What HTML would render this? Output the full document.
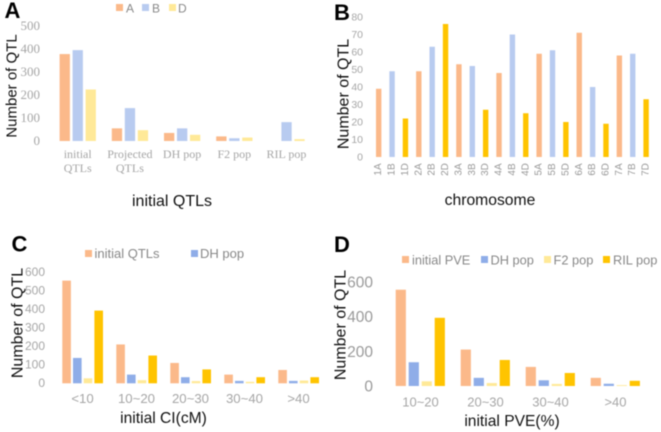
<!DOCTYPE html>
<html lang="en">
<head>
<meta charset="utf-8">
<title>QTL charts</title>
<style>
html,body{margin:0;padding:0;background:#fff;width:661px;height:432px;overflow:hidden}
svg{display:block;filter:blur(0.4px)}
text{font-family:"Liberation Sans",sans-serif}
</style>
</head>
<body>
<svg id="chart" xmlns="http://www.w3.org/2000/svg" width="661" height="432" viewBox="0 0 661 432"></svg>
<script>
const aCategories = [["initial","QTLs"],["Projected","QTLs"],["DH pop"],["F2 pop"],["RIL pop"]];
const aSeriesNames = ["A","B","D"];
const aSeriesA = [378,55,35,20,0];
const aSeriesB = [395,143,55,12,82];
const aSeriesD = [224,47,27,15,8];
const aTicks = [0,100,200,300,400,500];

const bCategories = ["1A","1B","1D","2A","2B","2D","3A","3B","3D","4A","4B","4D","5A","5B","5D","6A","6B","6D","7A","7B","7D"];
const bValues = [39,49,22,49,63,76,53,52,27,48,70,25,59,61,20,71,40,19,58,59,33];
const bTicks = [0,10,20,30,40,50,60,70,80];

const cCategories = ["<10","10~20","20~30","30~40",">40"];
const cInitial = [555,210,110,47,72];
const cDH = [137,47,33,13,13];
const cF2 = [27,17,12,8,15];
const cRIL = [393,150,75,33,33];
const cTicks = [0,100,200,300,400,500,600];

const dCategories = ["10~20","20~30","30~40",">40"];
const dInitial = [555,210,110,47];
const dDH = [137,47,33,13];
const dF2 = [27,17,12,5];
const dRIL = [393,150,75,30];
const dTicks = [0,200,400,600];

const svg = document.getElementById('chart');
const NS = 'http://www.w3.org/2000/svg';
const ORANGE = '#fbb98a', BLUE = '#b8cbf0', YELLOW = '#ffe998', GOLD = '#ffc400', MIDBLUE = '#8fade8';

function mk(tag, attrs, name, content) {
  const el = document.createElementNS(NS, tag);
  for (const k in attrs) el.setAttribute(k, attrs[k]);
  
  
  if (content !== undefined) el.textContent = content;
  svg.appendChild(el);
  return el;
}
function txt(x, y, s, name, size, fill, anchor, extra) {
  return mk('text', Object.assign({x: x, y: y, 'font-size': size, fill: fill, 'text-anchor': anchor || 'start'}, extra || {}), name, s);
}
function vtxt(cx, cy, s, name, size, fill) {
  return mk('text', {x: 0, y: 0, 'font-size': size, fill: fill, 'text-anchor': 'middle',
    'dominant-baseline': 'central', transform: 'translate(' + cx + ',' + cy + ') rotate(-90)'}, name, s);
}
function scale(base, pxPerUnit) { return v => base - v * pxPerUnit; }
function bar(x, w, y0, yv, fill, name) {
  mk('rect', {x: x, y: yv, width: w, height: Math.max(0, y0 - yv), fill: fill}, name);
}
function swatch(x, y, size, fill, name) {
  mk('rect', {x: x, y: y, width: size, height: size, fill: fill}, name);
}
function yTicks(ticks, yFn, rightX, size, fill, family, prefix, dy) {
  ticks.forEach(t => {
    txt(rightX, yFn(t) + dy, String(t), prefix + '-y-tick-' + t, size, fill, 'end', family ? {style: 'font-family:' + family} : {});
  });
}
function grouped(seriesList, colors, names, first, groupStep, barStep, barW, yFn, prefix) {
  seriesList.forEach((vals, s) => {
    vals.forEach((v, i) => {
      if (v > 0) bar(first + i * groupStep + s * barStep, barW, yFn(0), yFn(v), colors[s], prefix + '-bar-' + names[s] + '-' + i);
    });
  });
}

/* Panel A */
txt(4.5, 18, 'A', 'panel-a-label', 22, '#000', 'start', {'font-weight': 'bold'});
const yA = scale(141, 0.23);
yTicks(aTicks, yA, 40, 13, '#a6a6a6', '"Liberation Serif",serif', 'a', 4);
vtxt(12, 86, 'Number of QTL', 'a-y-axis-title', 15, '#111');
grouped([aSeriesA, aSeriesB, aSeriesD], [ORANGE, BLUE, YELLOW], aSeriesNames, 59.6, 52.2, 13, 10.3, yA, 'a');
aCategories.forEach((lines, i) => {
  lines.forEach((l, j) => {
    txt(77.7 + i * 52.2, 158 + j * 14, l, 'a-x-label-' + i + '-' + j, 12, '#a6a6a6', 'middle', {style: 'font-family:"Liberation Serif",serif'});
  });
});
txt(172, 206, 'initial QTLs', 'a-x-axis-title', 16, '#111', 'middle');
[[116, ORANGE, 126], [142, BLUE, 152], [169, YELLOW, 178]].forEach((e, i) => {
  swatch(e[0], 4, 7, e[1], 'a-legend-swatch-' + aSeriesNames[i]);
  txt(e[2], 12.5, aSeriesNames[i], 'a-legend-label-' + aSeriesNames[i], 12, '#888');
});

/* Panel B */
txt(334, 20, 'B', 'panel-b-label', 22, '#000', 'start', {'font-weight': 'bold'});
const yB = scale(157, 1.75);
yTicks(bTicks, yB, 363, 10.5, '#a6a6a6', null, 'b', 3.5);
vtxt(344, 94, 'Number of QTL', 'b-y-axis-title', 16, '#111');
const bColors = {A: ORANGE, B: BLUE, D: GOLD};
bValues.forEach((v, i) => {
  const cx = 378.7 + i * 13.37;
  const fam = bCategories[i].charAt(1);
  bar(cx - 2.7, 5.4, yB(0), yB(v), bColors[fam], 'b-bar-' + bCategories[i]);
  vtxt(cx, 169.5, bCategories[i], 'b-x-label-' + bCategories[i], 10, '#999');
});
txt(490, 205, 'chromosome', 'b-x-axis-title', 15.7, '#111', 'middle');

/* Panel C */
txt(11.5, 251.5, 'C', 'panel-c-label', 22, '#000', 'start', {'font-weight': 'bold'});
const yC = scale(383.3, 0.185);
yTicks(cTicks, yC, 45, 12, '#a6a6a6', null, 'c', 3.5);
vtxt(18, 323, 'Number of QTL', 'c-y-axis-title', 16, '#111');
grouped([cInitial, cDH, cF2, cRIL], [ORANGE, MIDBLUE, YELLOW, GOLD], ['initial','dh','f2','ril'], 62.3, 54, 10.7, 8.6, yC, 'c');
cCategories.forEach((c, i) => {
  txt(82.5 + i * 54, 403, c, 'c-x-label-' + i, 13.2, '#a6a6a6', 'middle');
});
txt(163.5, 423, 'initial CI(cM)', 'c-x-axis-title', 15.6, '#111', 'middle');
swatch(85, 250, 7, ORANGE, 'c-legend-swatch-initial');
txt(94.5, 258, 'initial QTLs', 'c-legend-label-initial', 13, '#888');
swatch(191, 250, 7, MIDBLUE, 'c-legend-swatch-dh');
txt(200, 258, 'DH pop', 'c-legend-label-dh', 13, '#888');

/* Panel D */
txt(334, 252, 'D', 'panel-d-label', 22, '#000', 'start', {'font-weight': 'bold'});
const yD = scale(386, 0.1735);
yTicks(dTicks, yD, 373, 15.5, '#999', null, 'd', 5.5);
vtxt(341, 325, 'Number of QTL', 'd-y-axis-title', 16, '#111');
grouped([dInitial, dDH, dF2, dRIL], [ORANGE, MIDBLUE, YELLOW, GOLD], ['initial','dh','f2','ril'], 395.7, 65, 13, 10.2, yD, 'd');
dCategories.forEach((c, i) => {
  txt(420.5 + i * 65, 406.5, c, 'd-x-label-' + i, 13, '#a6a6a6', 'middle');
});
txt(512, 426, 'initial PVE(%)', 'd-x-axis-title', 15.6, '#111', 'middle');
[[402, ORANGE, 412, 'initial PVE'], [481, MIDBLUE, 490.5, 'DH pop'], [544, YELLOW, 553.5, 'F2 pop'], [603, GOLD, 613, 'RIL pop']].forEach((e, i) => {
  swatch(e[0], 256, 7, e[1], 'd-legend-swatch-' + i);
  txt(e[2], 264.5, e[3], 'd-legend-label-' + i, 12.8, '#888');
});
</script>
</body>
</html>
